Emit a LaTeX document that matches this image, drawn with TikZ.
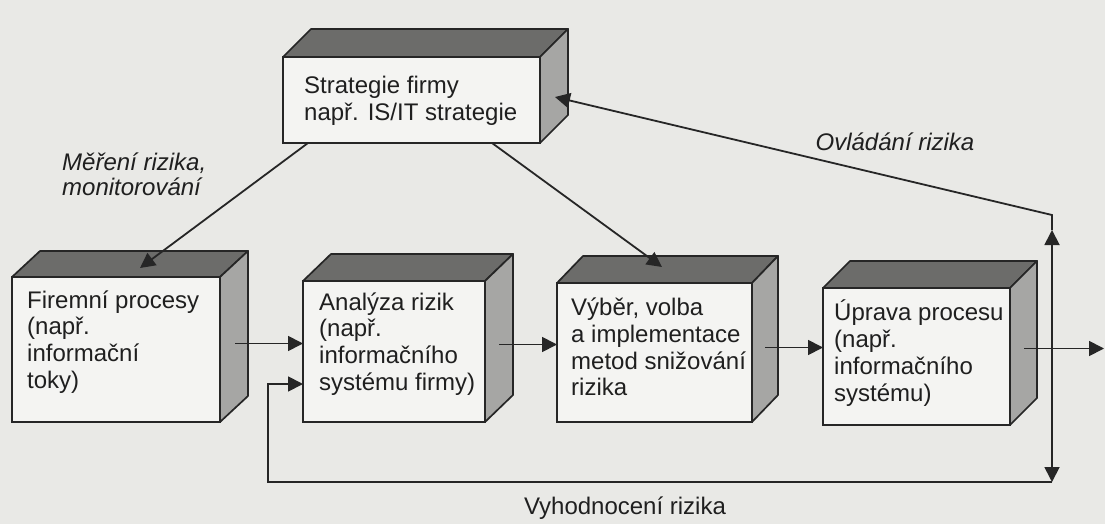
\documentclass[tikz,border=0pt]{standalone}
\usepackage{fontspec}
\setmainfont{Liberation Sans}
\usetikzlibrary{arrows.meta,calc}

\definecolor{paper}{HTML}{E9E9E6}
\definecolor{frontface}{HTML}{F4F4F2}
\definecolor{topface}{HTML}{6C6C6A}
\definecolor{sideface}{HTML}{A6A6A4}
\definecolor{edge}{HTML}{262626}

\tikzset{
  front/.style={draw=edge, fill=frontface, line width=1.7pt, inner sep=0pt,
    outer sep=0pt, anchor=north west},
  topfill/.style={draw=edge, fill=topface, line width=1.7pt, line join=round},
  sidefill/.style={draw=edge, fill=sideface, line width=1.7pt, line join=round},
  boxtext/.style={align=left, anchor=west, inner sep=0pt, text=black!88,
    font=\fontsize{24}{26.8}\selectfont},
  lbl/.style={align=left, inner sep=0pt, text=black!88,
    font=\fontsize{24}{25}\selectfont},
  conn/.style={draw=edge, line width=1.8pt},
  arr/.style={conn, -{Triangle[length=15pt,width=15pt]}},
}

% top and side faces of a block whose front face is the named node
\newcommand\cuboid[3]{%
  \filldraw[topfill] (#1.north west) -- ++(#2,-#3)
    -- ($(#1.north east)+(#2,-#3)$) -- (#1.north east) -- cycle;
  \filldraw[sidefill] (#1.north east) -- ++(#2,-#3)
    -- ($(#1.south east)+(#2,-#3)$) -- (#1.south east) -- cycle;
}

\begin{document}
\begin{tikzpicture}[x=1pt,y=-1pt]
  \fill[paper] (0,0) rectangle (1105,524);
  \useasboundingbox (0,0) rectangle (1105,524);

  % front faces
  \node[front, minimum width=257pt, minimum height=86pt]  (strat) at (283,57)  {};
  \node[front, minimum width=208pt, minimum height=145pt] (firm)  at (12,277)  {};
  \node[front, minimum width=182pt, minimum height=141pt] (ana)   at (303,281) {};
  \node[front, minimum width=195pt, minimum height=139pt] (vyb)   at (557,283) {};
  \node[front, minimum width=187pt, minimum height=137pt] (upr)   at (823,288) {};

  % depth of each block
  \cuboid{strat}{28}{28}
  \cuboid{firm}{28}{26}
  \cuboid{ana}{28}{27}
  \cuboid{vyb}{26}{27}
  \cuboid{upr}{27}{27}

  % block texts
  \node[boxtext] (strat-t) at (304,101) {Strategie firmy\\např. IS/IT strategie};
  \node[boxtext] (firm-t)  at (27,342)  {Firemní procesy\\(např.\\informační\\toky)};
  \node[boxtext] (ana-t)   at (319,344) {Analýza rizik\\(např.\\informačního\\systému firmy)};
  \node[boxtext] (vyb-t)   at (571,347) {Výběr, volba\\a implementace\\metod snižování\\rizika};
  \node[boxtext] (upr-t)   at (834,353) {Úprava procesu\\(např.\\informačního\\systému)};

  % main flow
  \draw[arr] ($(firm.east)+(15,-6)$) coordinate (a1) -- (a1 -| ana.west);
  \draw[arr] ($(ana.east)+(14,-7)$)  coordinate (a2) -- (a2 -| vyb.west);
  \draw[arr] ($(vyb.east)+(13,-5)$)  coordinate (a3) -- (a3 -| upr.west);
  \draw[arr] ($(upr.east)+(14,-8)$)  coordinate (a4) -- (1104,348.5) coordinate (out);

  % strategy to processes and to measures
  \draw[arr] ($(strat.south west)+(25,0)$)  -- ($(firm.north west)+(128,-9)$);
  \draw[arr] ($(strat.south west)+(209,0)$) -- ($(vyb.north west)+(105,-16)$);

  % risk control loop back to the strategy
  \coordinate (j) at (a4 -| 1052,0);
  \coordinate (uptip) at (1052,230);
  \coordinate (corner) at (1052,215);
  \draw[arr] (j) -- (uptip);
  \draw[arr] (uptip) -- (corner) -- ($(strat.east)+(15,-3)$);

  % risk evaluation loop back to the analysis
  \coordinate (dntip) at (1052,482);
  \coordinate (loopx) at (268,0);
  \coordinate (fb) at ($(ana.west)+(0,32.5)$);
  \draw[arr] (j) -- (dntip);
  \draw[arr] (dntip) -- (dntip -| loopx) -- (loopx |- fb) -- (fb);

  % labels
  \node[lbl, anchor=west, font=\fontsize{24}{25}\selectfont\itshape] (mer) at (62,174.5)
    {Měření rizika,\\monitorování};
  \node[lbl, font=\fontsize{24}{25}\selectfont\itshape] (ovl) at (895,142) {Ovládání rizika};
  \node[lbl] (vyh) at (625,508) {Vyhodnocení rizika};
\end{tikzpicture}
\end{document}
